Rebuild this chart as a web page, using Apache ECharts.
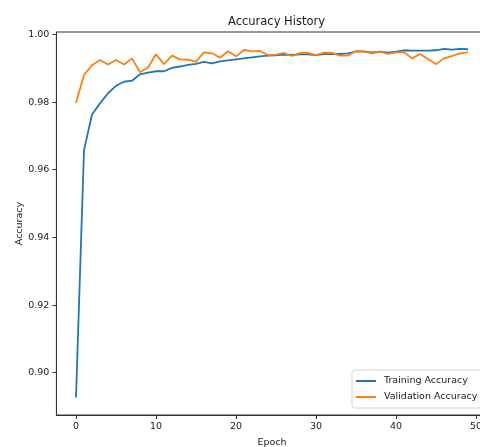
<!DOCTYPE html>
<html>
<head>
<meta charset="utf-8">
<script src="https://cdn.jsdelivr.net/npm/echarts@6/dist/echarts.min.js"></script>
<style>html,body{margin:0;padding:0;background:#fff;}#c{width:480px;height:447px;}</style>
</head>
<body>
<div id="c"></div>
<script>
const epochs = [0,1,2,3,4,5,6,7,8,9,10,11,12,13,14,15,16,17,18,19,20,21,22,23,24,25,26,27,28,29,30,31,32,33,34,35,36,37,38,39,40,41,42,43,44,45,46,47,48,49];
const trainingAccuracy = [0.8927,0.9658,0.9763,0.9796,0.9826,0.9848,0.9860,0.9863,0.9882,0.9887,
  0.9891,0.9891,0.9901,0.9905,0.9910,0.9913,0.9919,0.9914,0.9920,0.9923,
  0.9926,0.9929,0.9932,0.9935,0.9937,0.9938,0.9940,0.9939,0.9941,0.9941,
  0.9939,0.9942,0.9942,0.9942,0.9944,0.9949,0.9949,0.9947,0.9949,0.9946,
  0.9949,0.9953,0.9952,0.9952,0.9952,0.9953,0.9957,0.9955,0.9957,0.9956];
const validationAccuracy = [0.9798,0.9880,0.9909,0.9924,0.9911,0.9924,0.9911,0.9929,0.9888,0.9902,
  0.9941,0.9912,0.9937,0.9926,0.9925,0.9919,0.9947,0.9944,0.9931,0.9950,
  0.9935,0.9954,0.9950,0.9951,0.9939,0.9940,0.9945,0.9936,0.9945,0.9945,
  0.9938,0.9946,0.9945,0.9937,0.9937,0.9951,0.9950,0.9944,0.9949,0.9942,
  0.9947,0.9947,0.9929,0.9942,0.9927,0.9912,0.9929,0.9936,0.9944,0.9947];
const xTicks = [0,10,20,30,40,50];
const yTicks = [0.90,0.92,0.94,0.96,0.98,1.00];
const seriesNames = ['Training Accuracy','Validation Accuracy'];

const FONT = 'DejaVu Sans';
const chart = echarts.init(document.getElementById('c'), null, {renderer:'canvas'});
const pairs = arr => epochs.map((e,i)=>[e,arr[i]]);
chart.setOption({
  animation:false,
  backgroundColor:'#fff',
  title:{text:'Accuracy History',left:271.5,top:11,textAlign:'center',
    textStyle:{fontFamily:FONT,fontSize:11.5,fontWeight:'normal',color:'#1a1a1a'}},
  grid:{left:56.4,top:32,width:431.2,height:383,containLabel:false,outerBoundsMode:'none',
    show:true,borderColor:'#333',borderWidth:1,backgroundColor:'transparent'},
  legend:{orient:'vertical',left:352,top:370,icon:'rect',itemWidth:20,itemHeight:2,itemGap:6,
    padding:[6,6,6,4],borderColor:'#d5d5d5',borderWidth:1,borderRadius:3,backgroundColor:'rgba(255,255,255,0.8)',
    textStyle:{fontFamily:FONT,fontSize:9.5,color:'#1a1a1a',padding:[0,0,0,3]},data:seriesNames},
  xAxis:{type:'value',min:-2.45,max:51.45,name:'Epoch',nameLocation:'middle',nameGap:23,nameMoveOverlap:false,
    nameTextStyle:{fontFamily:FONT,fontSize:9.5,color:'#1a1a1a'},
    splitLine:{show:false},
    axisLine:{show:true,onZero:false,lineStyle:{color:'#333',width:1}},
    axisTick:{show:true,length:4,inside:false,customValues:xTicks,lineStyle:{color:'#333'}},
    axisLabel:{customValues:xTicks,margin:7,fontFamily:FONT,fontSize:9.5,color:'#1a1a1a'}},
  yAxis:{type:'value',min:0.8875,max:1.0007,name:'Accuracy',nameLocation:'middle',nameGap:32,nameMoveOverlap:false,
    nameTextStyle:{fontFamily:FONT,fontSize:9.5,color:'#1a1a1a'},
    splitLine:{show:false},
    axisLine:{show:true,onZero:false,lineStyle:{color:'#333',width:1}},
    axisTick:{show:true,length:4,inside:false,customValues:yTicks,lineStyle:{color:'#333'}},
    axisLabel:{customValues:yTicks,margin:7,fontFamily:FONT,fontSize:9.5,color:'#1a1a1a',
      formatter:v=>v.toFixed(2)}},
  series:[
    {name:seriesNames[0],type:'line',data:pairs(trainingAccuracy),symbol:'none',
      color:'#1f77b4',lineStyle:{width:1.8,color:'#1f77b4'}},
    {name:seriesNames[1],type:'line',data:pairs(validationAccuracy),symbol:'none',
      color:'#ff7f0e',lineStyle:{width:1.8,color:'#ff7f0e'}}
  ]
});
</script>
</body>
</html>
